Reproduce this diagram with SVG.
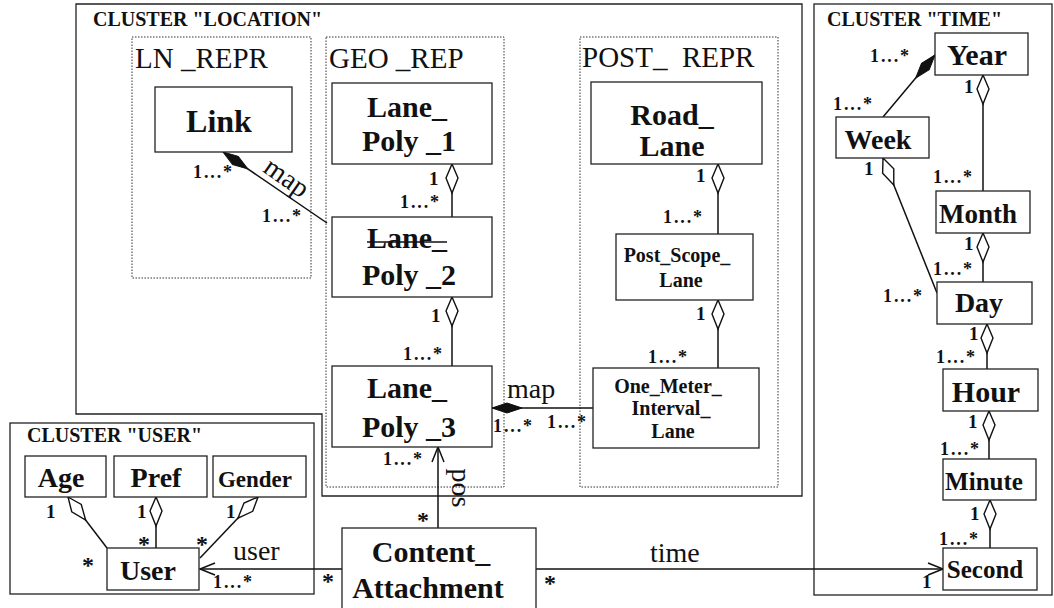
<svg xmlns="http://www.w3.org/2000/svg" width="1054" height="608" viewBox="0 0 1054 608">
<style>
.cl{fill:none;stroke:#222;stroke-width:1.3}
.sub{fill:none;stroke:#333;stroke-width:1;stroke-dasharray:1.5 1.5}
.box{fill:#fff;stroke:#222;stroke-width:1.3}
.ct{font-family:"Liberation Serif",serif;font-weight:bold;font-size:20px;fill:#111}
.st{font-family:"Liberation Serif",serif;font-size:29px;fill:#111;white-space:pre}
.n{font-family:"Liberation Serif",serif;font-weight:bold;font-size:30px;fill:#111;text-anchor:middle}
.ns{font-family:"Liberation Serif",serif;font-weight:bold;font-size:20px;fill:#111;text-anchor:middle}
.m{font-family:"Liberation Serif",serif;font-weight:bold;font-size:18px;fill:#111}
.o{font-family:"Liberation Serif",serif;font-weight:bold;font-size:19px;fill:#111}
.a{font-family:"Liberation Serif",serif;font-weight:bold;font-size:24px;fill:#111;text-anchor:middle}
.lb{font-family:"Liberation Serif",serif;font-size:28px;fill:#111}
.c{fill:none;stroke:#111;stroke-width:1.5}
.agg{marker-start:url(#hd)}
.comp{marker-start:url(#fd)}
.arr{marker-end:url(#oa)}
</style>
<defs>
<marker id="hd" markerUnits="userSpaceOnUse" viewBox="-1 -8 32 16" refX="0" refY="0" markerWidth="32" markerHeight="16" orient="auto" overflow="visible">
<path d="M0,0 L14,-6 L29,0 L14,6 Z" fill="#fff" stroke="#111" stroke-width="1.4"/>
</marker>
<marker id="fd" markerUnits="userSpaceOnUse" viewBox="-1 -8 32 16" refX="0" refY="0" markerWidth="32" markerHeight="16" orient="auto" overflow="visible">
<path d="M0,0 L15,-5 L30,0 L15,5 Z" fill="#111" stroke="#111" stroke-width="1"/>
</marker>
<marker id="oa" markerUnits="userSpaceOnUse" viewBox="-17 -8 18 16" refX="0" refY="0" markerWidth="18" markerHeight="16" orient="auto" overflow="visible">
<path d="M-15,-6 L0,0 L-15,6" fill="none" stroke="#111" stroke-width="1.5"/>
</marker>
</defs>
<rect width="1054" height="608" fill="#fff"/>

<!-- clusters -->
<g id="cluster-location">
<path class="cl" d="M76,4 H802 V496 H322 V414 H76 Z"/>
<text class="ct" x="93" y="26">CLUSTER "LOCATION"</text>
</g>
<g id="cluster-ln-repr">
<rect class="sub" x="132" y="37" width="179" height="241"/>
<text class="st" x="135" y="68">LN _REPR</text>
</g>
<g id="cluster-geo-rep">
<rect class="sub" x="326" y="37" width="178" height="450"/>
<text class="st" x="329" y="68">GEO _REP</text>
</g>
<g id="cluster-post-repr">
<rect class="sub" x="580" y="37" width="198" height="450"/>
<text class="st" x="582" y="67">POST_  REPR</text>
</g>
<g id="cluster-user">
<rect class="cl" x="10" y="423" width="304" height="171"/>
<text class="ct" x="27" y="442">CLUSTER "USER"</text>
</g>
<g id="cluster-time">
<rect class="cl" x="814" y="4" width="238" height="591"/>
<text class="ct" x="827" y="26">CLUSTER "TIME"</text>
</g>

<!-- connectors -->
<g id="connectors">
<path class="c comp" d="M223,152 L327,223"/>
<path class="c agg" d="M452,164 V217"/>
<path class="c agg" d="M452,297 V366"/>
<path class="c comp" d="M492,408 H593"/>
<path class="c agg" d="M718,164 V234"/>
<path class="c agg" d="M718,300 V368"/>
<path class="c arr" d="M438,528 V447"/>
<path class="c arr" d="M342,569 H200"/>
<path class="c arr" d="M536,569 H943"/>
<path class="c agg" d="M68,497 L107,548"/>
<path class="c agg" d="M156,497 V548"/>
<path class="c agg" d="M258,497 L200,558"/>
<path class="c comp" d="M935,55 L883,117"/>
<path class="c agg" d="M983,75 V191"/>
<path class="c agg" d="M883,158 L937,293"/>
<path class="c agg" d="M983,233 V282"/>
<path class="c agg" d="M987,324 V369"/>
<path class="c agg" d="M989,411 V459"/>
<path class="c agg" d="M990,500 V548"/>

<text class="lb" transform="translate(285,180) rotate(35)" text-anchor="middle" y="6">map</text>
<text class="lb" x="507" y="398">map</text>
<text class="lb" x="233" y="560">user</text>
<text class="lb" x="650" y="562">time</text>
<text class="lb" transform="translate(452,488) rotate(90)" text-anchor="middle">pos</text>

<text class="m" x="193" y="178" textLength="39">1...*</text>
<text class="m" x="262" y="222" textLength="39">1...*</text>
<text class="o" x="429" y="185">1</text>
<text class="m" x="400" y="208" textLength="39">1...*</text>
<text class="o" x="431" y="322">1</text>
<text class="m" x="403" y="360" textLength="39">1...*</text>
<text class="m" x="383" y="465" textLength="39">1...*</text>
<text class="m" x="493" y="432" textLength="39">1...*</text>
<text class="m" x="547" y="428" textLength="39">1...*</text>
<text class="o" x="696" y="182">1</text>
<text class="m" x="663" y="223" textLength="39">1...*</text>
<text class="o" x="696" y="320">1</text>
<text class="m" x="648" y="363" textLength="39">1...*</text>

<text class="o" x="46" y="518">1</text>
<text class="a" x="88" y="573">*</text>
<text class="o" x="137" y="518">1</text>
<text class="a" x="144" y="552">*</text>
<text class="o" x="226" y="518">1</text>
<text class="a" x="202" y="552">*</text>
<text class="m" x="213" y="588" textLength="39">1...*</text>
<text class="a" x="328" y="589">*</text>
<text class="a" x="423" y="528">*</text>
<text class="a" x="550" y="591">*</text>
<text class="o" x="922" y="588">1</text>

<text class="m" x="870" y="62" textLength="39">1...*</text>
<text class="m" x="833" y="110" textLength="39">1...*</text>
<text class="o" x="964" y="93">1</text>
<text class="m" x="933" y="183" textLength="39">1...*</text>
<text class="o" x="864" y="175">1</text>
<text class="m" x="883" y="302" textLength="39">1...*</text>
<text class="o" x="964" y="250">1</text>
<text class="m" x="933" y="275" textLength="39">1...*</text>
<text class="o" x="969" y="340">1</text>
<text class="m" x="936" y="363" textLength="39">1...*</text>
<text class="o" x="968" y="428">1</text>
<text class="m" x="940" y="455" textLength="39">1...*</text>
<text class="o" x="970" y="520">1</text>
<text class="m" x="939" y="545" textLength="39">1...*</text>
</g>

<!-- nodes -->
<g id="link"><rect class="box" x="155" y="87" width="137" height="65"/><text class="n" style="font-size:32px" x="219" y="132">Link</text></g>
<g id="lane-poly-1"><rect class="box" x="332" y="83" width="160" height="81"/><text class="n" x="407" y="117">Lane_</text><text class="n" x="409" y="151">Poly _1</text></g>
<g id="lane-poly-2"><rect class="box" x="332" y="217" width="160" height="80"/><text class="n" x="407" y="248">Lane_</text><text class="n" x="409" y="285">Poly _2</text><line x1="367" y1="242" x2="447" y2="242" stroke="#111" stroke-width="1.5"/></g>
<g id="lane-poly-3"><rect class="box" x="332" y="366" width="160" height="81"/><text class="n" x="407" y="398">Lane_</text><text class="n" x="409" y="437">Poly _3</text></g>
<g id="road-lane"><rect class="box" x="591" y="82" width="171" height="82"/><text class="n" x="672" y="125">Road_</text><text class="n" x="672" y="156">Lane</text></g>
<g id="post-scope-lane"><rect class="box" x="616" y="234" width="137" height="66"/><text class="ns" x="677" y="262">Post_Scope_</text><text class="ns" x="681" y="287">Lane</text></g>
<g id="one-meter-interval-lane"><rect class="box" x="593" y="368" width="166" height="80"/><text class="ns" x="668" y="393">One_Meter_</text><text class="ns" x="671" y="415">Interval_</text><text class="ns" x="673" y="438">Lane</text></g>
<g id="content-attachment"><rect class="box" x="342" y="528" width="194" height="84"/><text class="n" x="431" y="562">Content_</text><text class="n" x="428" y="598">Attachment</text></g>
<g id="age"><rect class="box" x="25" y="456" width="81" height="41"/><text class="n" style="font-size:28px" x="61" y="487">Age</text></g>
<g id="pref"><rect class="box" x="114" y="456" width="93" height="41"/><text class="n" style="font-size:28px" x="156" y="487">Pref</text></g>
<g id="gender"><rect class="box" x="213" y="456" width="93" height="41"/><text class="n" style="font-size:23px" x="255" y="487">Gender</text></g>
<g id="user"><rect class="box" x="107" y="548" width="92" height="42"/><text class="n" style="font-size:28px" x="148" y="580">User</text></g>
<g id="year"><rect class="box" x="935" y="33" width="93" height="42"/><text class="n" x="977" y="65">Year</text></g>
<g id="week"><rect class="box" x="836" y="117" width="93" height="41"/><text class="n" style="font-size:28px" x="878" y="149">Week</text></g>
<g id="month"><rect class="box" x="936" y="191" width="94" height="42"/><text class="n" style="font-size:27px" x="978" y="223">Month</text></g>
<g id="day"><rect class="box" x="937" y="282" width="95" height="42"/><text class="n" style="font-size:28px" x="979" y="312">Day</text></g>
<g id="hour"><rect class="box" x="943" y="369" width="95" height="42"/><text class="n" x="986" y="402">Hour</text></g>
<g id="minute"><rect class="box" x="943" y="459" width="93" height="41"/><text class="n" style="font-size:25px" x="984" y="490">Minute</text></g>
<g id="second"><rect class="box" x="943" y="548" width="94" height="42"/><text class="n" style="font-size:25px" x="985" y="578">Second</text></g>
</svg>
